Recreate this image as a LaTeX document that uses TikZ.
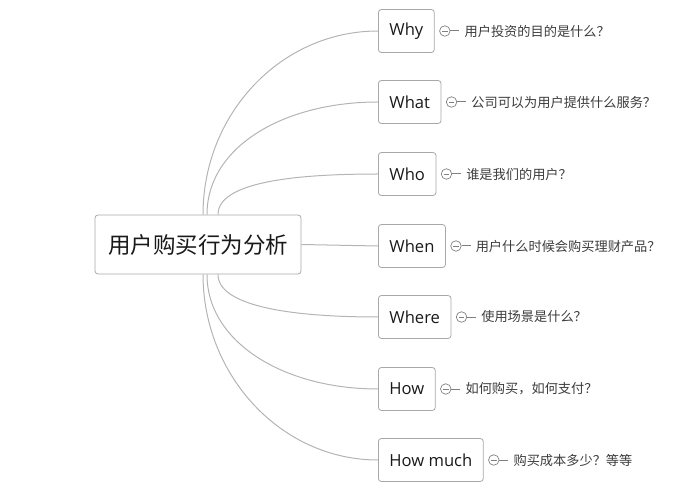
\documentclass[tikz,border=0pt]{standalone}
\usepackage{fontspec}
\setmainfont{Noto Sans CJK SC}
\newfontfamily\branchfont{Open Sans}
\usetikzlibrary{positioning}
\definecolor{boxline}{HTML}{A8A8A8}
\definecolor{linkline}{HTML}{B4B4B4}
\definecolor{notetext}{HTML}{3C3C3C}
\tikzset{
root/.style={draw=boxline, line width=0.8pt, rounded corners=3pt, minimum width=206pt, minimum height=59pt, font=\fontsize{22.5}{27}\selectfont, text=black!90}, % central topic
branch/.style={draw=boxline, line width=0.8pt, rounded corners=3pt, anchor=west, minimum height=43pt, inner xsep=11pt, font=\branchfont\fontsize{16.6}{20}\selectfont, text=black!90}, % the seven questions
fold/.style={circle, draw=gray, line width=0.7pt, minimum size=10.5pt, inner sep=0pt, path picture={\draw[gray, line width=0.7pt] ([xshift=2.5pt]path picture bounding box.west) -- ([xshift=-2.5pt]path picture bounding box.east);}}, % collapse marker
note/.style={inner xsep=5pt, font=\fontsize{13.2}{16}\selectfont, text=notetext}, % explanation text
link/.style={draw=linkline, line width=1pt}, % connectors
}

\begin{document}
\begin{tikzpicture}[x=1pt, y=1pt]
                \useasboundingbox (0,0) rectangle (684,498);

                \node[root] (root) at (198,253.5) {用户购买行为分析};

                \node[branch] (why) at (378,467) {Why};
                \node[branch] (what) at (378,396) {What};
                \node[branch] (who) at (378,324) {Who};
                \node[branch] (when) at (378,252) {When};
                \node[branch] (where) at (378,181) {Where};
                \node[branch] (how) at (378,109) {How};
                \node[branch] (howmuch) at (378,38) {How much};

                \node[fold, right=4.5pt of why] (cwhy) {};
                \node[fold, right=4.5pt of what] (cwhat) {};
                \node[fold, right=4.5pt of who] (cwho) {};
                \node[fold, right=4.5pt of when] (cwhen) {};
                \node[fold, right=4.5pt of where] (cwhere) {};
                \node[fold, right=4.5pt of how] (chow) {};
                \node[fold, right=4.5pt of howmuch] (chowmuch) {};

                \node[note, right=9pt of cwhy] (twhy) {用户投资的目的是什么？};
                \node[note, right=9pt of cwhat] (twhat) {公司可以为用户提供什么服务？};
                \node[note, right=9pt of cwho] (twho) {谁是我们的用户？};
                \node[note, right=9pt of cwhen] (twhen) {用户什么时候会购买理财产品？};
                \node[note, right=9pt of cwhere] (twhere) {使用场景是什么？};
                \node[note, right=9pt of chow] (thow) {如何购买，如何支付？};
                \node[note, right=9pt of chowmuch] (thowmuch) {购买成本多少？等等};

                \draw[link] ([xshift=5pt]root.north) .. controls +(0,101) and +(-97,0) .. (why.west);
                \draw[link] ([xshift=9pt]root.north) .. controls +(0,68) and +(-94,0) .. (what.west);
                \draw[link] ([xshift=20pt]root.north) .. controls +(0,32) and +(-86,0) .. (who.west);
                \draw[link] (root.east) -- (when.west);
                \draw[link] ([xshift=20pt]root.south) .. controls +(0,-32) and +(-86,0) .. (where.west);
                \draw[link] ([xshift=9pt]root.south) .. controls +(0,-68) and +(-94,0) .. (how.west);
                \draw[link] ([xshift=5pt]root.south) .. controls +(0,-101) and +(-97,0) .. (howmuch.west);

                \draw[link, draw=gray] (cwhy) -- (twhy);
                \draw[link, draw=gray] (cwhat) -- (twhat);
                \draw[link, draw=gray] (cwho) -- (twho);
                \draw[link, draw=gray] (cwhen) -- (twhen);
                \draw[link, draw=gray] (cwhere) -- (twhere);
                \draw[link, draw=gray] (chow) -- (thow);
                \draw[link, draw=gray] (chowmuch) -- (thowmuch);
            \end{tikzpicture}
\end{document}
